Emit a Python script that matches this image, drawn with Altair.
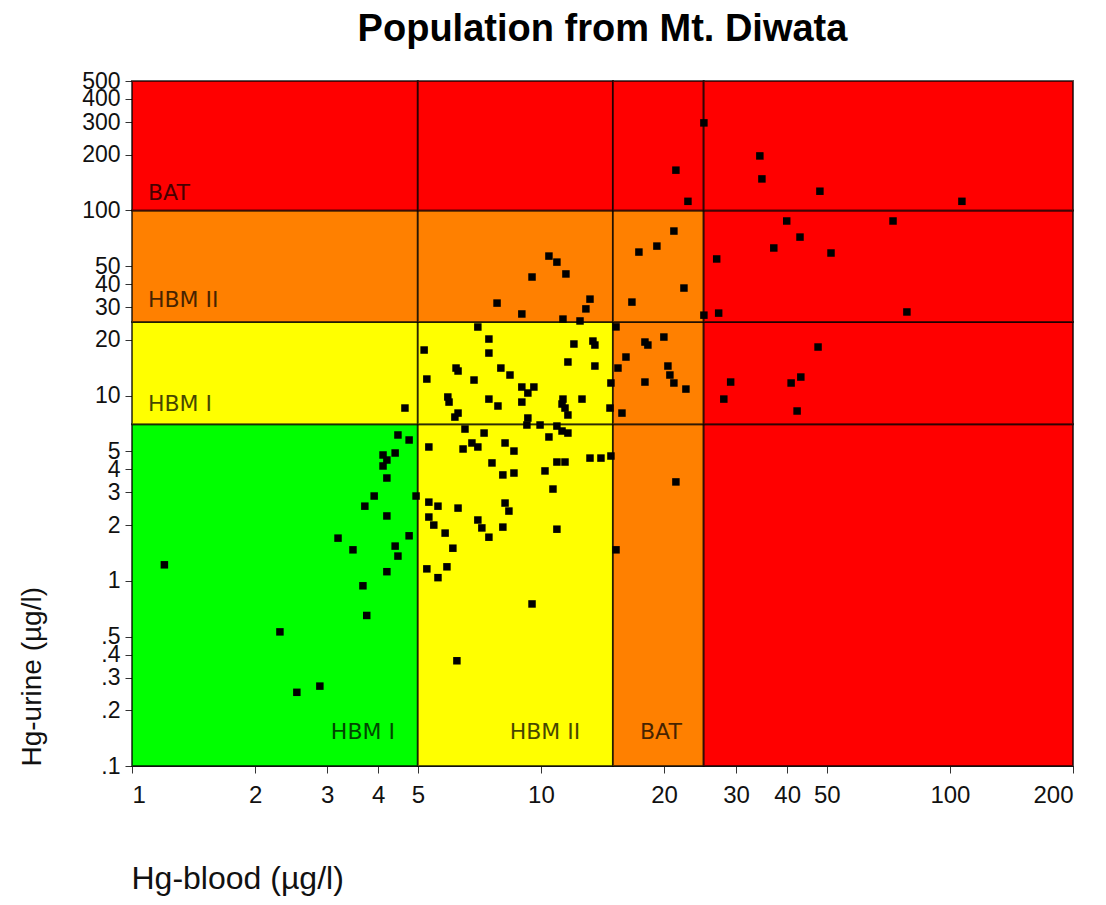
import altair as alt
import pandas as pd

# Hg-blood (µg/l) and Hg-urine (µg/l)
blood = [1.20, 2.30, 2.53, 2.88, 3.19, 3.47, 3.67, 3.75, 3.71, 3.91,
         4.20, 4.11, 4.20, 4.11, 4.40, 4.47, 4.76, 4.95, 4.20, 4.76,
         4.40, 4.47, 4.20, 4.65, 5.26, 5.89, 5.60, 9.51, 6.23, 5.32,
         6.52, 7.26, 6.45, 6.78, 7.01, 8.17, 8.59, 10.46, 11.26, 11.64,
         7.59, 8.07, 8.59, 10.23, 10.94, 11.45, 13.18, 14.02, 14.83, 10.70,
         5.32, 5.60, 6.27, 8.17, 8.35, 5.32, 5.47, 5.83, 7.01, 7.17,
         7.46, 8.07, 10.94, 6.09, 15.26, 6.16, 6.27, 9.24, 9.95, 10.94,
         9.29, 11.64, 14.75, 11.32, 11.26, 11.45, 12.60, 5.92, 5.96, 7.46,
         7.85, 8.98, 8.98, 9.61, 9.29, 14.83, 5.26, 6.86, 6.20, 6.27,
         7.98, 8.40, 11.64, 13.55, 5.18, 7.46, 7.46, 7.01, 12.04, 13.40,
         13.55, 12.46, 11.32, 10.46, 10.94, 9.51, 11.51, 7.81, 8.98, 13.18,
         12.88, 15.26, 17.96, 18.26, 19.98, 16.14, 15.43, 20.44, 20.67, 21.14,
         17.96, 22.62, 15.78, 21.38, 21.14, 19.21, 17.36, 22.37, 16.69, 25.03,
         21.38, 22.88, 25.03, 34.3, 34.7, 48.1, 107.0, 39.9, 72.6, 43.0,
         37.1, 51.2, 26.9, 27.2, 78.5, 47.6, 29.1, 28.0, 40.9, 43.2,
         42.3]
urine = [1.22, 0.53, 0.25, 0.27, 1.70, 1.47, 0.94, 0.65, 2.53, 2.87,
         3.59, 4.17, 4.49, 4.78, 4.90, 6.13, 5.76, 2.87, 2.24, 1.75,
         1.54, 1.36, 1.12, 8.57, 1.16, 1.19, 1.04, 0.75, 0.37, 5.28,
         6.60, 6.28, 5.15, 5.55, 5.28, 5.55, 5.02, 5.98, 6.44, 6.28,
         4.33, 3.73, 3.82, 3.92, 4.38, 4.38, 4.60, 4.60, 4.72, 3.13,
         2.66, 2.53, 2.47, 2.63, 2.38, 2.21, 2.00, 1.81, 2.13, 1.93,
         1.72, 1.95, 1.90, 1.50, 1.47, 7.66, 8.05, 6.94, 6.94, 6.85,
         7.57, 7.86, 8.57, 9.58, 9.01, 8.57, 9.58, 9.83, 9.23, 9.58,
         8.79, 9.23, 11.13, 11.13, 10.33, 11.70, 12.29, 12.14, 14.09, 13.58,
         14.09, 12.92, 15.19, 14.45, 17.63, 16.98, 20.21, 23.47, 19.00, 19.71,
         18.76, 25.3, 25.9, 56.7, 52.6, 43.7, 45.4, 31.6, 27.6, 33.2,
         29.4, 23.5, 19.47, 18.76, 20.72, 16.16, 14.09, 14.45, 12.92, 11.70,
         11.84, 10.85, 8.05, 3.42, 77.4, 64.2, 59.6, 38.1, 32.0, 27.2,
         165.0, 112.0, 297.0, 197.0, 148.0, 127.0, 112.0, 87.7, 87.7, 71.8,
         62.7, 58.9, 54.7, 27.9, 28.3, 18.3, 11.84, 9.58, 11.70, 12.60,
         8.26]

# zone limits
blood_limits = [1, 5, 15, 25, 200]
urine_limits = [0.1, 7, 25, 100, 500]
GREEN, YELLOW, ORANGE, RED = "#00FF00", "#FFFF00", "#FF8000", "#FF0000"
zone_colors = [  # urine band (bottom -> top) x blood band (left -> right)
    [GREEN, YELLOW, ORANGE, RED],
    [YELLOW, YELLOW, ORANGE, RED],
    [ORANGE, ORANGE, ORANGE, RED],
    [RED, RED, RED, RED],
]

x_ticks = [1, 2, 3, 4, 5, 10, 20, 30, 40, 50, 100, 200]
y_ticks = [0.1, 0.2, 0.3, 0.4, 0.5, 1, 2, 3, 4, 5, 10, 20, 30, 40, 50,
           100, 200, 300, 400, 500]

left_labels = ["BAT", "HBM II", "HBM I"]
left_label_x = [1.094, 1.094, 1.094]
left_label_y = [124, 32.8, 9.0]
bottom_labels = ["HBM I", "HBM II", "BAT"]
bottom_label_x = [3.67, 10.23, 19.65]
bottom_label_y = [0.153, 0.153, 0.153]

cells = []
for i in range(4):
    for j in range(4):
        cells.append({"x0": blood_limits[j], "x1": blood_limits[j + 1],
                      "y0": urine_limits[i], "y1": urine_limits[i + 1],
                      "fill": zone_colors[i][j]})
cells_df = pd.DataFrame(cells)
pts_df = pd.DataFrame({"blood": blood, "urine": urine})
left_df = pd.DataFrame({"t": left_labels, "x": left_label_x, "y": left_label_y})
bottom_df = pd.DataFrame({"t": bottom_labels, "x": bottom_label_x, "y": bottom_label_y})

FONT = "Liberation Sans"

xscale = alt.Scale(type="log", domain=[1, 200], nice=False)
yscale = alt.Scale(type="log", domain=[0.1, 500], nice=False)

x_axis = alt.Axis(values=x_ticks, format="d", title="Hg-blood (µg/l)", grid=False,
                  labelOverlap=False, labelFont=FONT, labelFontSize=24,
                  labelColor="#111", labelPadding=10, tickSize=7, tickColor="#333",
                  domainColor="#333", titleFont=FONT, titleFontSize=32,
                  titleFontWeight="normal", titleColor="#111", titleAlign="left",
                  titleBaseline="middle", titleX=-1, titleY=112)
y_axis = alt.Axis(values=y_ticks, grid=False, labelOverlap=False,
                  labelExpr="datum.value < 1 ? '.' + format(datum.value * 10, 'd') : format(datum.value, 'd')",
                  labelFont=FONT, labelFontSize=23, labelColor="#111", labelPadding=5,
                  tickSize=7, tickColor="#333", domainColor="#333",
                  title="Hg-urine (µg/l)", titleFont=FONT, titleFontSize=28,
                  titleFontWeight="normal", titleColor="#111", titleAngle=270,
                  titleAlign="left", titleBaseline="middle", titleX=-100, titleY=685)

zones = alt.Chart(cells_df).mark_rect(stroke="#000000", strokeOpacity=0.65,
                                      strokeWidth=2).encode(
    x=alt.X("x0:Q", scale=xscale, axis=x_axis),
    x2="x1:Q",
    y=alt.Y("y0:Q", scale=yscale, axis=y_axis),
    y2="y1:Q",
    fill=alt.Fill("fill:N", scale=None),
)

left_text = alt.Chart(left_df).mark_text(align="left", baseline="middle", font="DejaVu Sans",
                                         fontSize=22, color="#000", opacity=0.72).encode(
    x=alt.X("x:Q", scale=xscale, axis=x_axis),
    y=alt.Y("y:Q", scale=yscale, axis=y_axis),
    text="t:N",
)
bottom_text = alt.Chart(bottom_df).mark_text(align="center", baseline="middle", font="DejaVu Sans",
                                             fontSize=22, color="#000", opacity=0.72).encode(
    x=alt.X("x:Q", scale=xscale, axis=x_axis),
    y=alt.Y("y:Q", scale=yscale, axis=y_axis),
    text="t:N",
)

points = alt.Chart(pts_df).mark_square(size=56, color="#000000", opacity=1).encode(
    x=alt.X("blood:Q", scale=xscale, axis=x_axis),
    y=alt.Y("urine:Q", scale=yscale, axis=y_axis),
)

chart = alt.layer(zones, left_text, bottom_text, points).properties(
    width=941, height=685,
    title=alt.Title("Population from Mt. Diwata", font=FONT, fontSize=38,
                    fontWeight="bold", color="#000", anchor="middle", offset=21),
    padding={"left": 124, "top": 73, "right": 25, "bottom": 131},
    autosize=alt.AutoSizeParams(type="none"),
).configure_view(stroke=None).configure(background="white")

chart.save("out.html", embed_options={"renderer": "svg", "actions": False})
